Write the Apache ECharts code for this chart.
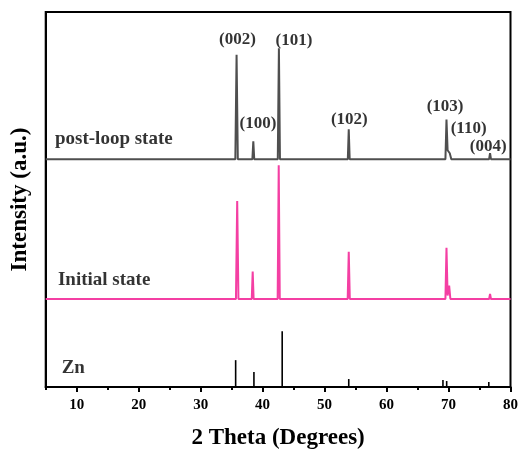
<!DOCTYPE html>
<html>
<head>
<meta charset="utf-8">
<script src="https://cdn.jsdelivr.net/npm/echarts@6/dist/echarts.min.js"></script>
<style>html,body{margin:0;padding:0;background:#fff}#c{width:521px;height:455px}</style>
</head>
<body>
<div id="c"></div>
<script>
// 2θ (deg) vs displayed intensity (a.u., patterns stacked as in the figure)
const postLoop = [
  [5,229],[35.6,229],[35.8,334],[36.0,229],
  [38.35,229],[38.5,247],[38.65,229],
  [42.45,229],[42.63,340.5],[42.8,229],
  [53.75,229],[53.9,259],[54.05,229],
  [69.5,229],[69.67,269],[69.85,238],[70.2,235],[70.45,229],
  [76.55,229],[76.7,235],[76.85,229],[80,229]
];
const initialState = [
  [5,88.5],[35.7,88.5],[35.9,187],[36.1,88.5],
  [38.25,88.5],[38.4,116],[38.55,88.5],
  [42.43,88.5],[42.6,223],[42.77,88.5],
  [53.73,88.5],[53.9,136],[54.07,88.5],
  [69.5,88.5],[69.67,140],[69.85,92],[70.1,102],[70.3,88.5],
  [76.55,88.5],[76.7,93.5],[76.85,88.5],[80,88.5]
];
const znRef = [[35.65,27],[38.6,15],[43.16,56],[53.9,8],[69.1,7],[69.7,6],[76.5,5]];
const hklLabels = [
  {name:'(002)', value:[35.93,349]},
  {name:'(100)', value:[39.24,265]},
  {name:'(101)', value:[45.05,348.5]},
  {name:'(102)', value:[54.0,268.5]},
  {name:'(103)', value:[69.45,281.5]},
  {name:'(110)', value:[73.24,260]},
  {name:'(004)', value:[76.4,242]}
];
const patternLabels = [
  {name:'post-loop state', value:[6.5,249]},
  {name:'Initial state', value:[6.98,107.3]},
  {name:'Zn', value:[7.58,19]}
];
const majorTicks = [10,20,30,40,50,60,70,80];
const minorTicks = [5,15,25,35,45,55,65,75];

const FONT = 'Liberation Serif';
const chart = echarts.init(document.getElementById('c'), null, {renderer:'canvas'});
chart.setOption({
  animation:false,
  backgroundColor:'#fff',
  grid:{left:45.7, right:10.3, top:12, bottom:66, show:true, borderColor:'#000', borderWidth:2, backgroundColor:'transparent'},
  xAxis:[{
    type:'value', min:5, max:80, interval:5,
    name:'2 Theta (Degrees)', nameLocation:'middle', nameGap:40,
    nameTextStyle:{fontFamily:FONT, fontWeight:'bold', fontSize:23, color:'#000'},
    axisLine:{show:true, lineStyle:{color:'#000', width:2}},
    axisTick:{show:true, inside:false, length:5, lineStyle:{color:'#000', width:2}, customValues:majorTicks},
    axisLabel:{show:true, margin:11, fontFamily:FONT, fontWeight:'bold', fontSize:15, color:'#000', customValues:majorTicks},
    splitLine:{show:false}
  },{
    type:'value', min:5, max:80, interval:5, position:'bottom',
    axisLine:{show:false},
    axisTick:{show:true, inside:false, length:3, lineStyle:{color:'#000', width:2}, customValues:minorTicks},
    axisLabel:{show:false},
    splitLine:{show:false}
  }],
  yAxis:{
    type:'value', min:0, max:377,
    name:'Intensity (a.u.)', nameLocation:'middle', nameGap:14,
    nameTextStyle:{fontFamily:FONT, fontWeight:'bold', fontSize:23, color:'#000'},
    axisLine:{show:true, lineStyle:{color:'#000', width:2}},
    axisTick:{show:false}, axisLabel:{show:false}, splitLine:{show:false}
  },
  series:[
    {type:'line', data:postLoop, showSymbol:false, symbol:'none', lineStyle:{color:'#4f4f4f', width:2}, z:3},
    {type:'line', data:initialState, showSymbol:false, symbol:'none', lineStyle:{color:'#f43fa3', width:2}, z:3},
    {type:'bar', data:znRef, barWidth:1.6, itemStyle:{color:'#000'}, z:3},
    {type:'scatter', data:hklLabels, symbolSize:0, z:5,
      label:{show:true, formatter:'{b}', position:[0,0], align:'center', verticalAlign:'middle',
        fontFamily:FONT, fontWeight:'bold', fontSize:17, color:'#000'}},
    {type:'scatter', data:patternLabels, symbolSize:0, z:5,
      label:{show:true, formatter:'{b}', position:[0,0], align:'left', verticalAlign:'middle',
        fontFamily:FONT, fontWeight:'bold', fontSize:19, color:'#000'}}
  ]
});
</script>
</body>
</html>
